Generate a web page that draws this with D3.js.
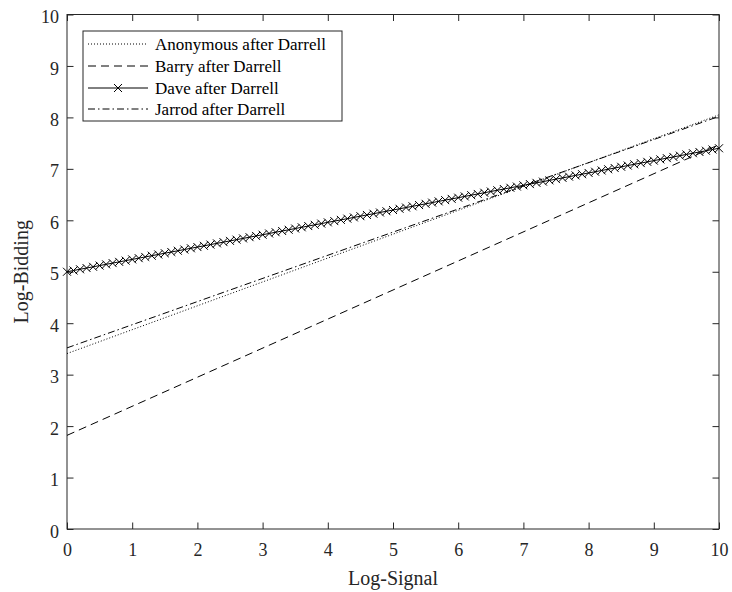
<!DOCTYPE html>
<html>
<head>
<meta charset="utf-8">
<script src="https://cdn.jsdelivr.net/npm/d3@7"></script>
<style>
  body { margin: 0; background: #fff; }
  text { font-family: "Liberation Serif", "Times New Roman", serif; fill: #262626; }
</style>
</head>
<body>
<div id="chart"></div>
<script>
// Data
const seriesNames = ["Anonymous after Darrell", "Barry after Darrell", "Dave after Darrell", "Jarrod after Darrell"];
const lineSignal = [0, 10];
const anonymous = [3.41, 8.05];
const barry = [1.82, 7.47];
const jarrod = [3.52, 8.02];
const daveSignal = [
  0.0, 0.1, 0.2, 0.3, 0.4, 0.5, 0.6, 0.7, 0.8, 0.9,
  1.0, 1.1, 1.2, 1.3, 1.4, 1.5, 1.6, 1.7, 1.8, 1.9,
  2.0, 2.1, 2.2, 2.3, 2.4, 2.5, 2.6, 2.7, 2.8, 2.9,
  3.0, 3.1, 3.2, 3.3, 3.4, 3.5, 3.6, 3.7, 3.8, 3.9,
  4.0, 4.1, 4.2, 4.3, 4.4, 4.5, 4.6, 4.7, 4.8, 4.9,
  5.0, 5.1, 5.2, 5.3, 5.4, 5.5, 5.6, 5.7, 5.8, 5.9,
  6.0, 6.1, 6.2, 6.3, 6.4, 6.5, 6.6, 6.7, 6.8, 6.9,
  7.0, 7.1, 7.2, 7.3, 7.4, 7.5, 7.6, 7.7, 7.8, 7.9,
  8.0, 8.1, 8.2, 8.3, 8.4, 8.5, 8.6, 8.7, 8.8, 8.9,
  9.0, 9.1, 9.2, 9.3, 9.4, 9.5, 9.6, 9.7, 9.8, 9.9,
  10.0
];
const dave = [
  5.000, 5.024, 5.048, 5.072, 5.096, 5.120, 5.144, 5.168, 5.192, 5.216,
  5.240, 5.264, 5.288, 5.312, 5.336, 5.360, 5.384, 5.408, 5.432, 5.456,
  5.480, 5.504, 5.528, 5.552, 5.576, 5.600, 5.624, 5.648, 5.672, 5.696,
  5.720, 5.744, 5.768, 5.792, 5.816, 5.840, 5.864, 5.888, 5.912, 5.936,
  5.960, 5.984, 6.008, 6.032, 6.056, 6.080, 6.104, 6.128, 6.152, 6.176,
  6.200, 6.224, 6.248, 6.272, 6.296, 6.320, 6.344, 6.368, 6.392, 6.416,
  6.440, 6.464, 6.488, 6.512, 6.536, 6.560, 6.584, 6.608, 6.632, 6.656,
  6.680, 6.704, 6.728, 6.752, 6.776, 6.800, 6.824, 6.848, 6.872, 6.896,
  6.920, 6.944, 6.968, 6.992, 7.016, 7.040, 7.064, 7.088, 7.112, 7.136,
  7.160, 7.184, 7.208, 7.232, 7.256, 7.280, 7.304, 7.328, 7.352, 7.376,
  7.400
];
const xTicks = [0, 1, 2, 3, 4, 5, 6, 7, 8, 9, 10];
const yTicks = [0, 1, 2, 3, 4, 5, 6, 7, 8, 9, 10];

const width = 732;
const height = 592;
const margin = {top: 14.5, right: 13, bottom: 63, left: 67};

const svg = d3.create("svg")
    .attr("width", width)
    .attr("height", height);

const x = d3.scaleLinear().domain([0, 10]).range([margin.left, width - margin.right]);
const y = d3.scaleLinear().domain([0, 10]).range([height - margin.bottom, margin.top]);

const axisColor = "#262626";
const tickLen = 6.5;

// Axes (ticks point inward, mirrored on top and right)
function styleAxis(g) {
    g.attr("font-family", null);
    g.select(".domain").remove();
    g.selectAll(".tick line").attr("stroke", axisColor);
    g.selectAll(".tick text").attr("fill", axisColor).style("font-size", "18px");
}

svg.append("g")
    .attr("transform", `translate(0,${y(0)})`)
    .call(d3.axisBottom(x).tickValues(xTicks).tickSizeInner(-tickLen).tickSizeOuter(0).tickPadding(14))
    .call(styleAxis);

svg.append("g")
    .attr("transform", `translate(0,${y(10)})`)
    .call(d3.axisTop(x).tickValues(xTicks).tickFormat("").tickSizeInner(-tickLen).tickSizeOuter(0))
    .call(styleAxis);

svg.append("g")
    .attr("transform", `translate(${x(0)},0)`)
    .call(d3.axisLeft(y).tickValues(yTicks).tickSizeInner(-tickLen).tickSizeOuter(0).tickPadding(8))
    .call(styleAxis)
    .selectAll(".tick text").attr("dy", "0.45em");

svg.append("g")
    .attr("transform", `translate(${x(10)},0)`)
    .call(d3.axisRight(y).tickValues(yTicks).tickFormat("").tickSizeInner(-tickLen).tickSizeOuter(0))
    .call(styleAxis);

// Box
svg.append("rect")
    .attr("x", x(0))
    .attr("y", y(10))
    .attr("width", x(10) - x(0))
    .attr("height", y(0) - y(10))
    .attr("fill", "none")
    .attr("stroke", axisColor)
    .attr("stroke-width", 1);

// Axis labels
svg.append("text")
    .attr("x", (x(0) + x(10)) / 2)
    .attr("y", 585)
    .attr("text-anchor", "middle")
    .style("font-size", "20px")
    .text("Log-Signal");

svg.append("text")
    .attr("transform", `translate(28,${(y(0) + y(10)) / 2}) rotate(-90)`)
    .attr("text-anchor", "middle")
    .style("font-size", "20px")
    .text("Log-Bidding");

// Lines
const line = d3.line()
    .x(d => x(d[0]))
    .y(d => y(d[1]));

const dashes = ["1,2", "8,5", null, "7,3,1.5,3"];

const plotLines = [
    d3.zip(lineSignal, anonymous),
    d3.zip(lineSignal, barry),
    d3.zip(daveSignal, dave),
    d3.zip(lineSignal, jarrod)
];

const plot = svg.append("g");

plotLines.forEach((pts, i) => {
    plot.append("path")
        .datum(pts)
        .attr("fill", "none")
        .attr("stroke", "#000")
        .attr("stroke-width", 1)
        .attr("stroke-dasharray", dashes[i])
        .attr("d", line);

    if (i === 2) {
        plot.append("g")
            .selectAll("path")
            .data(pts)
            .join("path")
            .attr("transform", d => `translate(${x(d[0])},${y(d[1])})`)
            .attr("d", "M-4,-4L4,4M-4,4L4,-4")
            .attr("stroke", "#000")
            .attr("stroke-width", 1);
    }
});

// Legend
const legend = svg.append("g");
legend.append("rect")
    .attr("x", 83)
    .attr("y", 31)
    .attr("width", 259)
    .attr("height", 90)
    .attr("fill", "#fff")
    .attr("stroke", axisColor)
    .attr("stroke-width", 1);

const rowY = [44, 66, 88, 109];

seriesNames.forEach((name, i) => {
    legend.append("line")
        .attr("x1", 88)
        .attr("x2", 148)
        .attr("y1", rowY[i])
        .attr("y2", rowY[i])
        .attr("stroke", "#000")
        .attr("stroke-width", 1)
        .attr("stroke-dasharray", dashes[i]);
    if (i === 2) {
        legend.append("path")
            .attr("transform", `translate(118,${rowY[i]})`)
            .attr("d", "M-4,-4L4,4M-4,4L4,-4")
            .attr("stroke", "#000")
            .attr("stroke-width", 1);
    }
    legend.append("text")
        .attr("x", 155)
        .attr("y", rowY[i])
        .attr("dy", "0.33em")
        .style("font-size", "17px")
        .style("fill", "#000")
        .text(name);
});

document.getElementById("chart").appendChild(svg.node());
</script>
</body>
</html>
